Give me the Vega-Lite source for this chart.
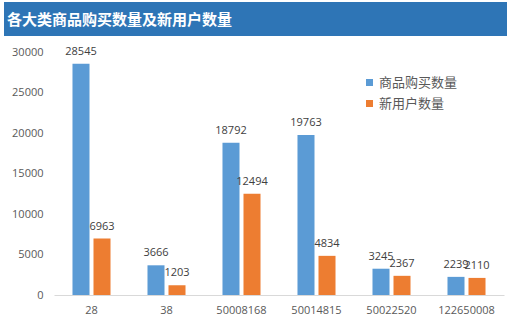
{
  "$schema": "https://vega.github.io/schema/vega-lite/v6.json",
  "padding": {"left": 4, "top": 2, "right": 0, "bottom": 0},
  "autosize": {"type": "pad"},
  "background": "white",
  "config": {"view": {"stroke": null}, "font": "Open Sans"},
  "spacing": 9,
  "vconcat": [
    {
      "width": 503,
      "height": 34,
      "view": {"fill": "#2E75B6", "stroke": null},
      "data": {"values": [{"title": "各大类商品购买数量及新用户数量"}]},
      "mark": {"type": "text", "align": "left", "baseline": "middle", "color": "white", "fontSize": 15, "fontWeight": "bold", "font": "Noto Sans CJK SC"},
      "encoding": {"text": {"field": "title"}, "x": {"value": 3}, "y": {"value": 18}}
    },
    {
      "width": 503,
      "height": 243,
      "data": {"values": [
        {"category": "28", "series": "商品购买数量", "value": 28545},
        {"category": "28", "series": "新用户数量", "value": 6963},
        {"category": "38", "series": "商品购买数量", "value": 3666},
        {"category": "38", "series": "新用户数量", "value": 1203},
        {"category": "50008168", "series": "商品购买数量", "value": 18792},
        {"category": "50008168", "series": "新用户数量", "value": 12494},
        {"category": "50014815", "series": "商品购买数量", "value": 19763},
        {"category": "50014815", "series": "新用户数量", "value": 4834},
        {"category": "50022520", "series": "商品购买数量", "value": 3245},
        {"category": "50022520", "series": "新用户数量", "value": 2367},
        {"category": "122650008", "series": "商品购买数量", "value": 2239},
        {"category": "122650008", "series": "新用户数量", "value": 2110}
      ]},
      "encoding": {
        "x": {
          "field": "category", "type": "nominal", "sort": null,
          "scale": {"paddingInner": 0.493, "paddingOuter": 0.2465, "range": [50, 500]},
          "axis": {"title": null, "labelAngle": 0, "ticks": false, "domainColor": "#D9D9D9", "labelColor": "#595959", "labelFontSize": 11, "labelPadding": 15, "labelBaseline": "middle"}
        },
        "xOffset": {"field": "series", "type": "nominal", "sort": ["商品购买数量", "新用户数量"], "scale": {"paddingInner": 0.19}},
        "y": {
          "field": "value", "type": "quantitative",
          "scale": {"domain": [0, 30000], "nice": false},
          "axis": {"title": null, "format": "d", "offset": -50, "values": [0, 5000, 10000, 15000, 20000, 25000, 30000], "grid": false, "domain": false, "ticks": false, "labelColor": "#595959", "labelFontSize": 11, "labelPadding": 11}
        }
      },
      "layer": [
        {
          "mark": {"type": "bar"},
          "encoding": {
            "color": {
              "field": "series", "type": "nominal", "sort": ["商品购买数量", "新用户数量"],
              "scale": {"domain": ["商品购买数量", "新用户数量"], "range": ["#5B9BD5", "#ED7D31"]},
              "legend": {"title": null, "orient": "none", "legendX": 359, "legendY": 74, "padding": 0, "symbolType": "square", "symbolSize": 49, "labelFontSize": 13, "labelColor": "#595959", "labelFont": "Noto Sans CJK SC", "rowPadding": 7, "labelOffset": 3}
            }
          }
        },
        {
          "mark": {"type": "text", "dy": -9, "baseline": "alphabetic", "fontSize": 11},
          "encoding": {
            "text": {"field": "value", "type": "quantitative", "format": "d"},
            "color": {"value": "#404040"}
          }
        }
      ]
    }
  ]
}
